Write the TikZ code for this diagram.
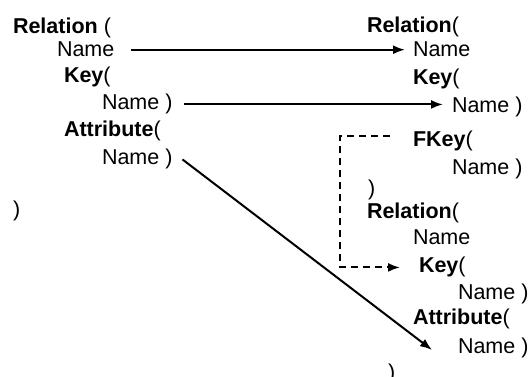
\documentclass[tikz,border=0pt]{standalone}
\usepackage{fontspec}
\setmainfont{Liberation Sans}
\usetikzlibrary{arrows.meta}
\newcommand{\lblfont}{\fontsize{21.5}{26}\selectfont}
\tikzset{
  txt/.style={anchor=base west,inner sep=0pt,outer sep=0pt,font=\lblfont},
  link/.style={->,>={Latex[length=12pt,width=9pt]},line width=2pt},
}
\begin{document}
\begin{tikzpicture}[x=1pt,y=-1pt]
\useasboundingbox (0,0) rectangle (531,377);
% left relation
\node[txt] (lrel) at (13,34) {\textbf{Relation} (};
\node[txt] (lname) at (57,57) {Name};
\node[txt] (lkey) at (64,83) {\textbf{Key}(};
\node[txt] (lkeyname) at (102,110) {Name )};
\node[txt] (lattr) at (64,137) {\textbf{Attribute}(};
\node[txt] (lattrname) at (102,165) {Name )};
\node[txt] (lclose) at (13,217) {)};
% right relations
\node[txt] (rrel) at (367,33) {\textbf{Relation}(};
\node[txt] (rname) at (413,57) {Name};
\node[txt] (rkey) at (413,85) {\textbf{Key}(};
\node[txt] (rkeyname) at (452,113) {Name )};
\node[txt] (rfkey) at (413,147) {\textbf{FKey}(};
\node[txt] (rfkeyname) at (452,175) {Name )};
\node[txt] (rclose) at (368,196) {)};
\node[txt] (rrel2) at (367,219) {\textbf{Relation}(};
\node[txt] (rname2) at (413,245) {Name};
\node[txt] (rkey2) at (419,273) {\textbf{Key}(};
\node[txt] (rkeyname2) at (458,300) {Name )};
\node[txt] (rattr2) at (413,325) {\textbf{Attribute}(};
\node[txt] (rattrname2) at (458,353) {Name )};
\node[txt] (rclose2) at (388,379) {)};
% mappings
\draw[link,shorten <=17pt,shorten >=8pt] (lname.east) -- (rname.west);
\draw[link,shorten <=12pt,shorten >=9pt] (lkeyname.east) -- (lkeyname.east -| rkeyname.west);
\draw[link] ([xshift=10pt]lattrname.east) -- ([xshift=-26pt,yshift=-2.5pt]rattrname2.west);
\draw[link,dash pattern=on 7pt off 5pt] ([xshift=-23pt,yshift=5pt]rfkey.west) -- ++(-50,0) |- ([xshift=-19pt]rkey2.west);
\end{tikzpicture}
\end{document}
